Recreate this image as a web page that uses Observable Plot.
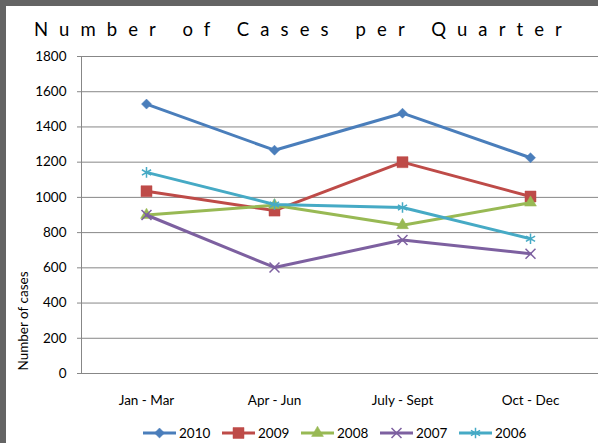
<!DOCTYPE html>
<html><head><meta charset="utf-8">
<script src="https://cdn.jsdelivr.net/npm/d3@7"></script>
<script src="https://cdn.jsdelivr.net/npm/@observablehq/plot@0.6"></script>
<style>
html,body{margin:0;padding:0;}
body{width:598px;height:443px;background:#646464;position:relative;overflow:hidden;font-family:Lato,sans-serif;}
#panel{position:absolute;left:6px;top:6px;width:592px;height:437px;background:#fff;}
#title{position:absolute;left:34px;top:19.5px;font-size:18.5px;line-height:18.5px;letter-spacing:11.1px;white-space:nowrap;color:#000;}
#ylabel{position:absolute;left:22.5px;top:321px;font-size:13.5px;line-height:14px;white-space:nowrap;transform:translate(-50%,-50%) rotate(-90deg);color:#000;}
#chart{position:absolute;left:0;top:0;}
.leg{position:absolute;top:425px;height:16px;display:flex;align-items:center;font-size:13.5px;color:#000;white-space:nowrap;}
.leg svg{margin-right:3px;}
</style>
</head><body>
<div id="panel"></div>
<div id="title">Number of Cases per Quarter</div>
<div id="ylabel">Number of cases</div>
<div id="chart"></div>
<div id="legend"></div>
<script>
const quarters = ["Jan - Mar", "Apr - Jun", "July - Sept", "Oct - Dec"];
const years = ["2010", "2009", "2008", "2007", "2006"];
const cases2010 = [1530, 1268, 1478, 1225];
const cases2009 = [1035, 925, 1200, 1005];
const cases2008 = [900, 955, 842, 970];
const cases2007 = [900, 602, 758, 680];
const cases2006 = [1142, 960, 943, 765];
const yTicks = [0, 200, 400, 600, 800, 1000, 1200, 1400, 1600, 1800];

const seriesValues = [cases2010, cases2009, cases2008, cases2007, cases2006];
const colors = ["#4A7EBB", "#BE4B48", "#98B954", "#7D60A0", "#46AAC5"];
const symbols = [
  {symbol: "square", r: 4, rotate: 45, filled: true},
  {symbol: "square", r: 6.2, rotate: 0, filled: true},
  {symbol: "triangle", r: 4.4, rotate: 0, filled: true},
  {symbol: "times", r: 4.6, rotate: 0, filled: false},
  {symbol: "asterisk", r: 5, rotate: 0, filled: false}
];

const rows = years.flatMap((yr, i) => quarters.map((q, j) => ({year: yr, quarter: q, value: seriesValues[i][j]})));

const seriesMarks = years.flatMap((yr, i) => {
  const data = rows.filter(d => d.year === yr);
  const s = symbols[i];
  return [
    Plot.line(data, {x: "quarter", y: "value", stroke: colors[i], strokeWidth: 3, strokeLinejoin: "round"}),
    Plot.dot(data, {
      x: "quarter", y: "value", symbol: s.symbol, r: s.r, rotate: s.rotate,
      fill: s.filled ? colors[i] : "none",
      stroke: colors[i], strokeWidth: s.filled ? 0.5 : 1.5
    })
  ];
});

const chart = Plot.plot({
  width: 598,
  height: 420,
  marginTop: 56,
  marginBottom: 47,
  marginLeft: 81,
  marginRight: 0,
  style: {fontFamily: "Lato, sans-serif", fontSize: "13.5px", color: "#000", background: "transparent", overflow: "visible"},
  x: {type: "point", domain: quarters, range: [81, 595], padding: 0.5, label: null},
  y: {domain: [0, 1800], label: null},
  marks: [
    Plot.gridY(yTicks, {stroke: "#878787", strokeOpacity: 1, strokeWidth: 1}),
    Plot.frame({anchor: "left", stroke: "#878787"}),
    Plot.axisY(yTicks, {tickSize: 4, tickPadding: 11, stroke: "#878787", label: null, fill: "#000", tickFormat: d => String(d)}),
    Plot.axisX({tickSize: 0, tickPadding: 22, label: null, fill: "#000"}),
    ...seriesMarks
  ]
});
document.getElementById("chart").appendChild(chart);

// legend
const legend = document.getElementById("legend");
const symFns = {square: d3.symbolSquare, triangle: d3.symbolTriangle, times: d3.symbolTimes, asterisk: d3.symbolAsterisk};
years.forEach((yr, i) => {
  const s = symbols[i];
  const item = document.createElement("div");
  item.className = "leg";
  item.style.left = (143 + i * 79) + "px";
  const svg = d3.create("svg").attr("width", 33).attr("height", 16);
  svg.append("line").attr("x1", 0).attr("x2", 33).attr("y1", 8).attr("y2", 8)
    .attr("stroke", colors[i]).attr("stroke-width", 3);
  svg.append("path")
    .attr("d", d3.symbol(symFns[s.symbol], Math.PI * s.r * s.r)())
    .attr("transform", `translate(16.5,8) rotate(${s.rotate})`)
    .attr("fill", s.filled ? colors[i] : "none")
    .attr("stroke", colors[i]).attr("stroke-width", s.filled ? 0.5 : 1.5);
  item.appendChild(svg.node());
  const t = document.createElement("span");
  t.textContent = yr;
  item.appendChild(t);
  legend.appendChild(item);
});
</script>
</body></html>
